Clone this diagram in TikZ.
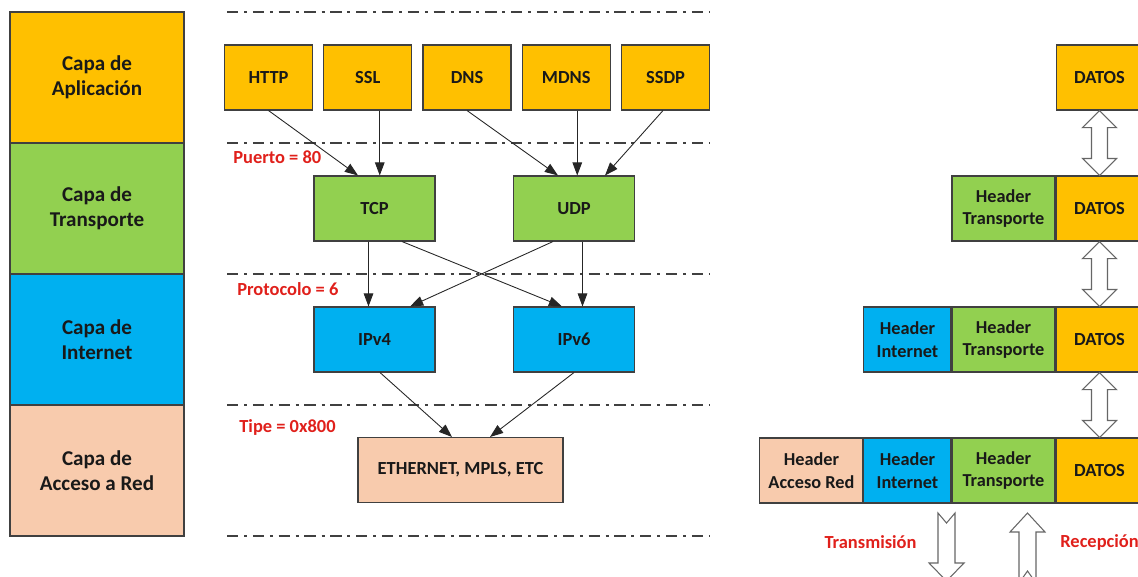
\documentclass[tikz,border=0pt]{standalone}
\usepackage{fontspec}
\setmainfont{Carlito}
\usetikzlibrary{arrows.meta,positioning}
\definecolor{app}{HTML}{FFC000}
\definecolor{trn}{HTML}{92D050}
\definecolor{net}{HTML}{00B0F0}
\definecolor{acc}{HTML}{F8CBAD}
\definecolor{lbred}{HTML}{E0201B}
\definecolor{edge}{HTML}{404040}
\tikzset{
  lay/.style={rectangle,draw=edge,line width=.6pt,minimum width=3.48cm,minimum height=2.62cm,inner sep=0pt,align=center,font=\fontsize{12}{14.2}\selectfont\bfseries,text=black!90},
  prt/.style={rectangle,draw=edge,line width=.6pt,minimum height=1.3cm,inner sep=0pt,font=\fontsize{10.5}{12.5}\selectfont\bfseries,text=black!90},
  hdr/.style={rectangle,draw=edge,line width=.6pt,minimum height=1.3cm,inner sep=0pt,align=center,font=\fontsize{10.4}{12.8}\selectfont\bfseries,text=black!90},
  sep/.style={draw=black!75,line width=1.1pt,dash pattern=on 6.4pt off 3.3pt on 1.7pt off 3.3pt},
  flw/.style={-{Triangle[length=7.5pt,width=5.5pt]},line width=.5pt,draw=black!85},
  rl/.style={font=\fontsize{10.5}{12}\selectfont\bfseries,text=lbred,inner sep=0pt},
  hol/.style={draw=black!60,fill=white,line width=.6pt},
}
% hollow double arrow from the bottom of one packet to the top of the next
\newcommand\dblarr[2]{%
  \draw[hol] (#1.south) -- ++(17,17) -- ++(-9,0) -- ([shift={(8,-17)}]#2.north)
    -- ++(9,0) -- (#2.north) -- ++(-17,-17) -- ++(9,0)
    -- ([shift={(-8,17)}]#1.south) -- ++(-9,0) -- cycle;}
\begin{document}
\begin{tikzpicture}[x=0.02cm,y=-0.02cm]
\useasboundingbox (0,0) rectangle (1138,576);
\clip (0,0) rectangle (1138,576);
% layers
\node[lay,fill=app] (capA) at (97,77.5) {Capa de\\Aplicación};
\node[lay,fill=trn] (capT) at (97,208.5) {Capa de\\Transporte};
\node[lay,fill=net] (capI) at (97,339.5) {Capa de\\Internet};
\node[lay,fill=acc] (capR) at (97,470.5) {Capa de\\Acceso a Red};
% protocols
\foreach \y in {12,143,274,405,536}
  \draw[sep] (227,\y) -- (710,\y);
\node[prt,fill=app,minimum width=1.76cm] (http) at (268.5,77.5) {HTTP};
\node[prt,fill=app,minimum width=1.76cm] (ssl) at (367.75,77.5) {SSL};
\node[prt,fill=app,minimum width=1.76cm] (dns) at (467,77.5) {DNS};
\node[prt,fill=app,minimum width=1.76cm] (mdns) at (566.25,77.5) {MDNS};
\node[prt,fill=app,minimum width=1.76cm] (ssdp) at (665.5,77.5) {SSDP};
\node[prt,fill=trn,minimum width=2.42cm] (tcp) at (374.5,208.5) {TCP};
\node[prt,fill=trn,minimum width=2.42cm] (udp) at (574,208.5) {UDP};
\node[prt,fill=net,minimum width=2.42cm] (ip4) at (374.5,339.5) {IPv4};
\node[prt,fill=net,minimum width=2.42cm] (ip6) at (574,339.5) {IPv6};
\node[prt,fill=acc,minimum width=4.1cm] (eth) at (460.5,470) {ETHERNET, MPLS, ETC};
\draw[flw] (http.south) -- ([xshift=-.33cm]tcp.north);
\draw[flw] ([xshift=.24cm]ssl.south) -- ([xshift=.24cm]ssl.south |- tcp.north);
\draw[flw] (dns.south) -- ([xshift=-.32cm]udp.north);
\draw[flw] ([xshift=.22cm]mdns.south) -- ([xshift=.22cm]mdns.south |- udp.north);
\draw[flw] ([xshift=-.05cm]ssdp.south) -- ([xshift=.62cm]udp.north);
\draw[flw] ([xshift=-.12cm]tcp.south) -- ([xshift=-.12cm]tcp.south |- ip4.north);
\draw[flw] ([xshift=.55cm]tcp.south) -- ([xshift=-.24cm]ip6.north);
\draw[flw] ([xshift=-.42cm]udp.south) -- ([xshift=.71cm]ip4.north);
\draw[flw] ([xshift=.17cm]udp.south) -- ([xshift=.17cm]udp.south |- ip6.north);
\draw[flw] ([xshift=.11cm]ip4.south) -- ([xshift=-.17cm]eth.north);
\draw[flw] (ip6.south) -- ([xshift=.59cm]eth.north);
\node[rl,anchor=west] (lpto) at (233,157) {Puerto = 80};
\node[rl,anchor=west] (lprt) at (237,289) {Protocolo = 6};
\node[rl,anchor=west] (ltip) at (239,427) {Tipe = 0x800};
% encapsulation
\node[prt,fill=app,minimum width=1.74cm] (d1) at (1099.5,77.5) {DATOS};
\node[prt,fill=app,minimum width=1.74cm] (d2) at (1099.5,208.5) {DATOS};
\node[hdr,fill=trn,minimum width=2.06cm,left=0pt of d2] (t2) {Header\\Transporte};
\node[prt,fill=app,minimum width=1.74cm] (d3) at (1099.5,339.5) {DATOS};
\node[hdr,fill=trn,minimum width=2.06cm,left=0pt of d3] (t3) {Header\\Transporte};
\node[hdr,fill=net,minimum width=1.74cm,left=0pt of t3] (i3) {Header\\Internet};
\node[prt,fill=app,minimum width=1.74cm] (d4) at (1099.5,470.5) {DATOS};
\node[hdr,fill=trn,minimum width=2.06cm,left=0pt of d4] (t4) {Header\\Transporte};
\node[hdr,fill=net,minimum width=1.74cm,left=0pt of t4] (i4) {Header\\Internet};
\node[hdr,fill=acc,minimum width=2.06cm,left=0pt of i4] (a4) {Header\\Acceso Red};
\dblarr{d1}{d2}
\dblarr{d2}{d3}
\dblarr{d3}{d4}
\draw[hol] (938,513) -- (946.5,523) -- (955,513) -- (955,563) -- (964,563)
  -- (946.5,581) -- (929,563) -- (938,563) -- cycle;
\draw[hol] (1027.5,513) -- (1045,532) -- (1036,532) -- (1036,583)
  -- (1027.5,571) -- (1019,583) -- (1019,532) -- (1010,532) -- cycle;
\node[rl] (ltx) at (870.5,542) {Transmisión};
\node[rl,anchor=west] (lrx) at (1060,542) {Recepción};
\end{tikzpicture}
\end{document}
